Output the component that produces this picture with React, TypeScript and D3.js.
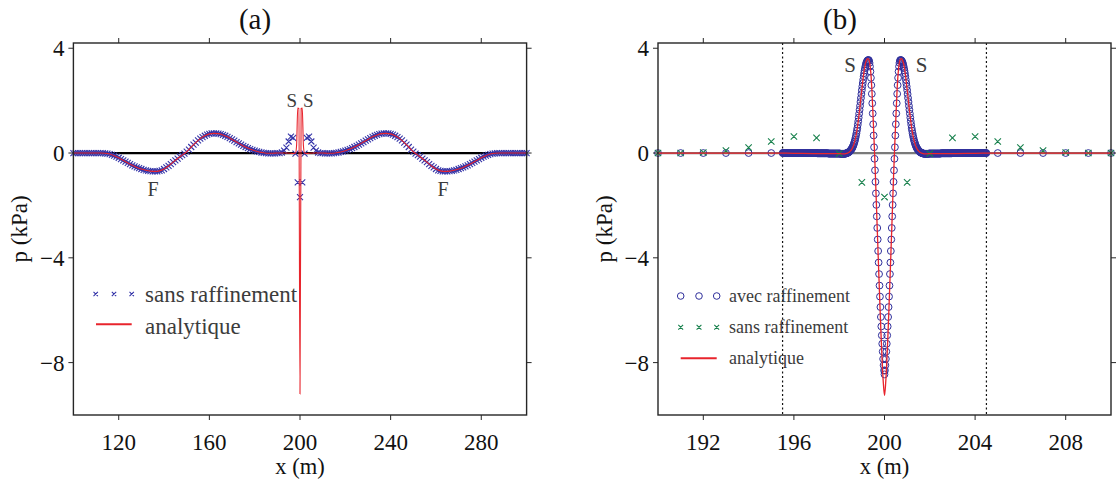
import React from 'react';
import * as d3 from 'd3';

const W = 1116;
const H = 480;
const FONT = '"Liberation Serif", "Times New Roman", Times, serif';

// ---------- axes / ticks ----------
const xTicksA = [120, 160, 200, 240, 280];
const xTicksB = [192, 196, 200, 204, 208];
const yTicks = [4, 0, -4, -8];
const yTickLabels = ['4', '0', '\u22124', '\u22128'];
const xDomainA: [number, number] = [100, 300];
const xDomainB: [number, number] = [190, 210];
const yDomain: [number, number] = [-10, 4.2];
const refinementBounds = [195.5, 204.5];

// ---------- "sans raffinement" : x = 100 ... 300 m, every 1 m ----------
const sansX = d3.range(100, 301);
const sansP = [
  0, 0, 0, 0, 0, 0, 0, 0, 0, 0, 0, 0, 0, 0,
  -0.01, -0.02, -0.04, -0.07, -0.10, -0.14, -0.18, -0.23, -0.28, -0.33,
  -0.38, -0.42, -0.47, -0.51, -0.55, -0.58, -0.61, -0.64, -0.66, -0.68,
  -0.69, -0.70, -0.70, -0.70, -0.68, -0.66, -0.61, -0.55, -0.49, -0.42,
  -0.35, -0.28, -0.21, -0.14, -0.08, -0.02, 0.05, 0.13, 0.23, 0.32,
  0.40, 0.48, 0.55, 0.61, 0.66, 0.70, 0.73, 0.75, 0.75, 0.75,
  0.74, 0.72, 0.69, 0.66, 0.62, 0.57, 0.52, 0.47, 0.42, 0.37,
  0.32, 0.27, 0.23, 0.19, 0.15, 0.12, 0.09, 0.06, 0.04, 0.02,
  0.01, 0.00, -0.01, -0.01, -0.01, -0.01, 0.00, 0.00, 0.02, 0.09,
  0.21, 0.44, 0.63, 0.58, -0.02, -1.12, -1.68,
  -1.12, -0.02, 0.58, 0.63, 0.44, 0.21, 0.09, 0.02, 0.00, 0.00,
  -0.01, -0.01, -0.01, -0.01, 0.00, 0.01, 0.02, 0.04, 0.06, 0.09,
  0.12, 0.15, 0.19, 0.23, 0.27, 0.32, 0.37, 0.42, 0.47, 0.52,
  0.57, 0.62, 0.66, 0.69, 0.72, 0.74, 0.75, 0.75, 0.75, 0.73,
  0.70, 0.66, 0.61, 0.55, 0.48, 0.40, 0.32, 0.23, 0.13, 0.05,
  -0.02, -0.08, -0.14, -0.21, -0.28, -0.35, -0.42, -0.49, -0.55, -0.61,
  -0.66, -0.68, -0.70, -0.70, -0.70, -0.69, -0.68, -0.66, -0.64, -0.61,
  -0.58, -0.55, -0.51, -0.47, -0.42, -0.38, -0.33, -0.28, -0.23, -0.18,
  -0.14, -0.10, -0.07, -0.04, -0.02, -0.01,
  0, 0, 0, 0, 0, 0, 0, 0, 0, 0, 0, 0, 0, 0,
];

// ---------- analytic solution, panel (a) (coarse sampling) ----------
const analyticA: [number, number][] = [
  [100, 0], [104, 0], [108, 0], [112, 0], [114, -0.01], [116, -0.04], [118, -0.10],
  [120, -0.18], [122, -0.28], [124, -0.38], [126, -0.47], [128, -0.55], [130, -0.61],
  [132, -0.66], [134, -0.69], [136, -0.70], [138, -0.68], [140, -0.61], [142, -0.49],
  [144, -0.35], [146, -0.21], [148, -0.08], [150, 0.05], [152, 0.23], [154, 0.40],
  [156, 0.55], [158, 0.66], [160, 0.73], [162, 0.75], [164, 0.74], [166, 0.69],
  [168, 0.62], [170, 0.52], [172, 0.42], [174, 0.32], [176, 0.23], [178, 0.15],
  [180, 0.09], [182, 0.04], [184, 0.01], [186, -0.01], [188, -0.01], [190, 0],
  [192, 0], [194, 0], [196, -0.01], [197, -0.02], [198, 0], [198.5, 0.3],
  [199, 1.72], [199.5, 1.7], [200, -9.2], [200.5, 1.7], [201, 1.72], [201.5, 0.3],
  [202, 0], [203, -0.02], [204, -0.01], [206, 0], [208, 0], [210, 0],
  [212, -0.01], [214, -0.01], [216, 0.01], [218, 0.04], [220, 0.09], [222, 0.15],
  [224, 0.23], [226, 0.32], [228, 0.42], [230, 0.52], [232, 0.62], [234, 0.69],
  [236, 0.74], [238, 0.75], [240, 0.73], [242, 0.66], [244, 0.55], [246, 0.40],
  [248, 0.23], [250, 0.05], [252, -0.08], [254, -0.21], [256, -0.35], [258, -0.49],
  [260, -0.61], [262, -0.68], [264, -0.70], [266, -0.69], [268, -0.66], [270, -0.61],
  [272, -0.55], [274, -0.47], [276, -0.38], [278, -0.28], [280, -0.18], [282, -0.10],
  [284, -0.04], [286, -0.01], [288, 0], [292, 0], [296, 0], [300, 0],
];

// ---------- analytic solution, panel (b) ----------
const analyticBLeftTail: [number, number][] = [
  [190, 0], [191, 0], [192, 0], [193, 0], [194, 0], [195, 0], [196, -0.01], [197, -0.02], [197.5, -0.02],
];
// core: 198 ... 202 m, every 0.05 m
const analyticBCoreStart = 198;
const analyticBCoreStep = 0.05;
const analyticBCore = [
  -0.02, -0.02, -0.03, -0.03, -0.03, -0.03, -0.02, -0.01, 0.01, 0.04,
  0.08, 0.14, 0.22, 0.34, 0.50, 0.70, 0.96, 1.28, 1.65, 2.03,
  2.42, 2.80, 3.13, 3.38, 3.53, 3.60, 3.58, 3.42, 3.02, 2.30,
  1.30, 0.25, -0.90, -2.15, -3.40, -4.65, -5.85, -7.00, -8.00, -8.80,
  -9.25,
  -8.80, -8.00, -7.00, -5.85, -4.65, -3.40, -2.15, -0.90, 0.25, 1.30,
  2.30, 3.02, 3.42, 3.58, 3.60, 3.53, 3.38, 3.13, 2.80, 2.42,
  2.03, 1.65, 1.28, 0.96, 0.70, 0.50, 0.34, 0.22, 0.14, 0.08,
  0.04, 0.01, -0.01, -0.02, -0.03, -0.03, -0.03, -0.03, -0.02, -0.02,
];
const analyticBRightTail: [number, number][] = [
  [202.5, -0.02], [203, -0.02], [204, -0.01], [205, 0], [206, 0], [207, 0], [208, 0], [209, 0], [210, 0],
];

// ---------- "avec raffinement" ----------
const avecCoarseX = [190, 191, 192, 193, 194, 195, 205, 206, 207, 208, 209, 210];
const avecCoarseP = [0, 0, 0, 0, 0, 0, 0, 0, 0, 0, 0, 0];
// refined zone 195.5 ... 204.5 m, every 0.02 m
const avecFineStart = 195.5;
const avecFineStep = 0.02;
const avecFineLeftFlat = [
  0, 0, 0, 0, 0, 0, 0, 0, 0, 0, 0, 0, 0, 0, 0, 0, 0, 0, 0, 0, 0, 0, 0, 0, 0,
  0, 0, 0, 0, 0, 0, 0, 0, 0, 0, 0, 0, 0, 0, 0, 0, 0, 0, 0, 0, 0, 0, 0, 0, 0,
  0, 0, 0, 0, 0, 0, 0, 0, 0, 0, 0, 0, 0, 0, 0, 0, 0, 0, 0, 0, 0, 0, 0, 0, 0, 0,
  -0.01, -0.01, -0.01, -0.01, -0.01, -0.01, -0.01, -0.01, -0.01, -0.01, -0.01, -0.01, -0.01,
  -0.01, -0.01, -0.01, -0.01, -0.01, -0.01, -0.01, -0.01, -0.01, -0.01, -0.01, -0.01,
  -0.02, -0.02, -0.02, -0.02, -0.02, -0.02, -0.02, -0.02, -0.02, -0.02, -0.02, -0.02,
  -0.02, -0.02, -0.02, -0.02, -0.02, -0.02, -0.02, -0.02, -0.02, -0.02, -0.02, -0.02,
];
const avecFineCore = [
  -0.02, -0.02, -0.02, -0.03, -0.03, -0.03, -0.03, -0.03, -0.03, -0.03,
  -0.03, -0.03, -0.03, -0.02, -0.02, -0.02, -0.01, 0.00, 0.00, 0.01,
  0.02, 0.03, 0.05, 0.06, 0.08, 0.10, 0.12, 0.15, 0.17, 0.20,
  0.24, 0.28, 0.33, 0.38, 0.44, 0.50, 0.58, 0.66, 0.75, 0.85,
  0.95, 1.08, 1.21, 1.35, 1.50, 1.65, 1.80, 1.95, 2.10, 2.25,
  2.40, 2.54, 2.67, 2.80, 2.93, 3.05, 3.15, 3.24, 3.32, 3.39,
  3.45, 3.49, 3.52, 3.54, 3.55, 3.55, 3.52, 3.44, 3.30, 3.11,
  2.87, 2.59, 2.26, 1.90, 1.51, 1.10, 0.67, 0.22, -0.22, -0.66,
  -1.10, -1.54, -1.98, -2.42, -2.86, -3.30, -3.74, -4.18, -4.62, -5.06,
  -5.48, -5.88, -6.26, -6.62, -6.96, -7.28, -7.58, -7.86, -8.10, -8.30,
  -8.45,
  -8.30, -8.10, -7.86, -7.58, -7.28, -6.96, -6.62, -6.26, -5.88, -5.48,
  -5.06, -4.62, -4.18, -3.74, -3.30, -2.86, -2.42, -1.98, -1.54, -1.10,
  -0.66, -0.22, 0.22, 0.67, 1.10, 1.51, 1.90, 2.26, 2.59, 2.87,
  3.11, 3.30, 3.44, 3.52, 3.55, 3.55, 3.54, 3.52, 3.49, 3.45,
  3.39, 3.32, 3.24, 3.15, 3.05, 2.93, 2.80, 2.67, 2.54, 2.40,
  2.25, 2.10, 1.95, 1.80, 1.65, 1.50, 1.35, 1.21, 1.08, 0.95,
  0.85, 0.75, 0.66, 0.58, 0.50, 0.44, 0.38, 0.33, 0.28, 0.24,
  0.20, 0.17, 0.15, 0.12, 0.10, 0.08, 0.06, 0.05, 0.03, 0.02,
  0.01, 0.00, 0.00, -0.01, -0.02, -0.02, -0.02, -0.03, -0.03, -0.03,
  -0.03, -0.03, -0.03, -0.03, -0.03, -0.03, -0.03, -0.02, -0.02, -0.02,
];
const avecFineRightFlat = [
  -0.02, -0.02, -0.02, -0.02, -0.02, -0.02, -0.02, -0.02, -0.02, -0.02, -0.02, -0.02,
  -0.02, -0.02, -0.02, -0.02, -0.02, -0.02, -0.02, -0.02, -0.02, -0.02, -0.02, -0.02,
  -0.01, -0.01, -0.01, -0.01, -0.01, -0.01, -0.01, -0.01, -0.01, -0.01, -0.01, -0.01, -0.01,
  -0.01, -0.01, -0.01, -0.01, -0.01, -0.01, -0.01, -0.01, -0.01, -0.01, -0.01, -0.01,
  0, 0, 0, 0, 0, 0, 0, 0, 0, 0, 0, 0, 0, 0, 0, 0, 0, 0, 0, 0, 0, 0, 0, 0, 0,
  0, 0, 0, 0, 0, 0, 0, 0, 0, 0, 0, 0, 0, 0, 0, 0, 0, 0, 0, 0, 0, 0, 0, 0, 0,
  0, 0, 0, 0, 0, 0, 0, 0, 0, 0, 0, 0, 0, 0, 0, 0, 0, 0, 0, 0, 0, 0, 0, 0, 0, 0,
];

// ---------- styles ----------
const C_BLUE_A = '#3434a8';
const C_BLUE_B = '#30309c';
const C_GREEN = '#17804c';
const C_RED = '#e8242c';
const C_AXIS = '#262626';
const C_TEXT = '#111';
const C_NOTE = '#3c3c3c';

// ---------- layout ----------
const plotTop = 43;
const plotBottom = 415;
const panelA = { left: 73.4, right: 526.6 };
const panelB = { left: 658, right: 1111 };

const y = d3.scaleLinear().domain(yDomain).range([plotBottom, plotTop]);
const xA = d3.scaleLinear().domain(xDomainA).range([panelA.left, panelA.right]);
const xB = d3.scaleLinear().domain(xDomainB).range([panelB.left, panelB.right]);

function crossPath(pts: [number, number][], s: number) {
  return pts
    .map(([px, py]) => `M${px - s},${py - s}L${px + s},${py + s}M${px - s},${py + s}L${px + s},${py - s}`)
    .join('');
}

function Frame({ x, ticks, left, right, title, titleX }: any) {
  const cx = (left + right) / 2;
  return (
    <g>
      <rect x={left} y={plotTop} width={right - left} height={plotBottom - plotTop} fill="none" stroke={C_AXIS} strokeWidth={1.4} />
      {ticks.map((t: number) => (
        <g key={'xt' + t}>
          <line x1={x(t)} x2={x(t)} y1={plotBottom} y2={plotBottom + 5} stroke={C_AXIS} strokeWidth={1} />
          <line x1={x(t)} x2={x(t)} y1={plotTop} y2={plotTop - 5} stroke={C_AXIS} strokeWidth={1} />
          <text x={x(t)} y={449.5} textAnchor="middle" fontSize={23} fill={C_TEXT}>{t}</text>
        </g>
      ))}
      {yTicks.map((t, i) => (
        <g key={'yt' + t}>
          <line x1={left - 5} x2={left} y1={y(t)} y2={y(t)} stroke={C_AXIS} strokeWidth={1} />
          <line x1={right} x2={right + 5} y1={y(t)} y2={y(t)} stroke={C_AXIS} strokeWidth={1} />
          <text x={left - 9} y={y(t) + 8} textAnchor="end" fontSize={23} fill={C_TEXT}>{yTickLabels[i]}</text>
        </g>
      ))}
      <text x={cx} y={474} textAnchor="middle" fontSize={22.5} fill={C_TEXT}>x (m)</text>
      <text transform={`translate(${left - 46},229) rotate(-90)`} textAnchor="middle" fontSize={23} fill={C_TEXT}>p (kPa)</text>
      <text x={titleX} y={29} textAnchor="middle" fontSize={29} fill={C_TEXT}>{title}</text>
    </g>
  );
}

export default function App() {
  const lineA = d3.line<[number, number]>().x(d => xA(d[0])).y(d => y(d[1])).curve(d3.curveMonotoneX);
  const lineB = d3.line<[number, number]>().x(d => xB(d[0])).y(d => y(d[1])).curve(d3.curveMonotoneX);

  const sansPts: [number, number][] = sansX.map((xv, i) => [xv, sansP[i]]);
  const sansA = crossPath(sansPts.map(([a, b]) => [xA(a), y(b)] as [number, number]), 3);
  const sansB = crossPath(
    sansPts.filter(d => d[0] >= xDomainB[0] && d[0] <= xDomainB[1]).map(([a, b]) => [xB(a), y(b)] as [number, number]),
    3.2
  );

  const analyticB: [number, number][] = [
    ...analyticBLeftTail,
    ...analyticBCore.map((p, i) => [analyticBCoreStart + i * analyticBCoreStep, p] as [number, number]),
    ...analyticBRightTail,
  ];

  const avecFineP = [...avecFineLeftFlat, ...avecFineCore, ...avecFineRightFlat];
  const avecPts: [number, number][] = [
    ...avecCoarseX.map((xv, i) => [xv, avecCoarseP[i]] as [number, number]),
    ...avecFineP.map((p, i) => [avecFineStart + i * avecFineStep, p] as [number, number]),
  ];

  const legA = [95.7, 114, 131.7];
  const legB = [680.7, 699, 716.7];

  return (
    <svg width={W} height={H} style={{ position: 'absolute', left: 0, top: 0, background: '#fff' }} fontFamily={FONT}>
      <rect x={0} y={0} width={W} height={H} fill="#fff" />

      {/* ---------------- panel (a) ---------------- */}
      <line x1={panelA.left} x2={panelA.right} y1={y(0)} y2={y(0)} stroke="#000" strokeWidth={2.2} />
      <path d={sansA} stroke={C_BLUE_A} strokeWidth={1.1} fill="none" />
      <path d={lineA(analyticA) || ''} stroke={C_RED} strokeWidth={1.1} fill="none" />
      <Frame x={xA} ticks={xTicksA} left={panelA.left} right={panelA.right} title="(a)" titleX={255} />
      <text x={291.7} y={106.5} textAnchor="middle" fontSize={19} fill={C_NOTE}>S</text>
      <text x={308.3} y={106.5} textAnchor="middle" fontSize={19} fill={C_NOTE}>S</text>
      <text x={153} y={195.5} textAnchor="middle" fontSize={20} fill={C_NOTE}>F</text>
      <text x={443} y={195.5} textAnchor="middle" fontSize={20} fill={C_NOTE}>F</text>
      {/* legend (a) */}
      <path d={crossPath(legA.map(v => [v, 294] as [number, number]), 2.2)} stroke={C_BLUE_A} strokeWidth={1.1} fill="none" />
      <text x={145} y={302} fontSize={23} fill={C_NOTE}>sans raffinement</text>
      <line x1={96} x2={131.7} y1={324.3} y2={324.3} stroke={C_RED} strokeWidth={2} />
      <text x={145} y={333.5} fontSize={23} fill={C_NOTE}>analytique</text>

      {/* ---------------- panel (b) ---------------- */}
      <line x1={panelB.left} x2={panelB.right} y1={y(0)} y2={y(0)} stroke="#7a7a7a" strokeWidth={2.2} />
      {refinementBounds.map(b => (
        <line key={b} x1={xB(b)} x2={xB(b)} y1={plotTop} y2={plotBottom} stroke="#111" strokeWidth={1.2} strokeDasharray="2,2.5" />
      ))}
      <g fill="none" stroke={C_BLUE_B} strokeWidth={1}>
        {avecPts.map((d, i) => (
          <circle key={i} cx={xB(d[0])} cy={y(d[1])} r={3.4} />
        ))}
      </g>
      <path d={sansB} stroke={C_GREEN} strokeWidth={1.1} fill="none" />
      <path d={lineB(analyticB) || ''} stroke={C_RED} strokeWidth={1.3} fill="none" />
      <Frame x={xB} ticks={xTicksB} left={panelB.left} right={panelB.right} title="(b)" titleX={840} />
      <text x={850} y={72} textAnchor="middle" fontSize={21} fill={C_NOTE}>S</text>
      <text x={921.7} y={72} textAnchor="middle" fontSize={21} fill={C_NOTE}>S</text>
      {/* legend (b) */}
      <g fill="none" stroke={C_BLUE_B} strokeWidth={1}>
        {legB.map(v => <circle key={v} cx={v} cy={296} r={3.3} />)}
      </g>
      <text x={729} y={301.5} fontSize={18} fill={C_NOTE}>avec raffinement</text>
      <path d={crossPath(legB.map(v => [v, 327.3] as [number, number]), 2.4)} stroke={C_GREEN} strokeWidth={1.1} fill="none" />
      <text x={729} y={333} fontSize={18} fill={C_NOTE}>sans raffinement</text>
      <line x1={680.7} x2={716.7} y1={358.3} y2={358.3} stroke={C_RED} strokeWidth={2} />
      <text x={729} y={363.5} fontSize={18} fill={C_NOTE}>analytique</text>
    </svg>
  );
}
